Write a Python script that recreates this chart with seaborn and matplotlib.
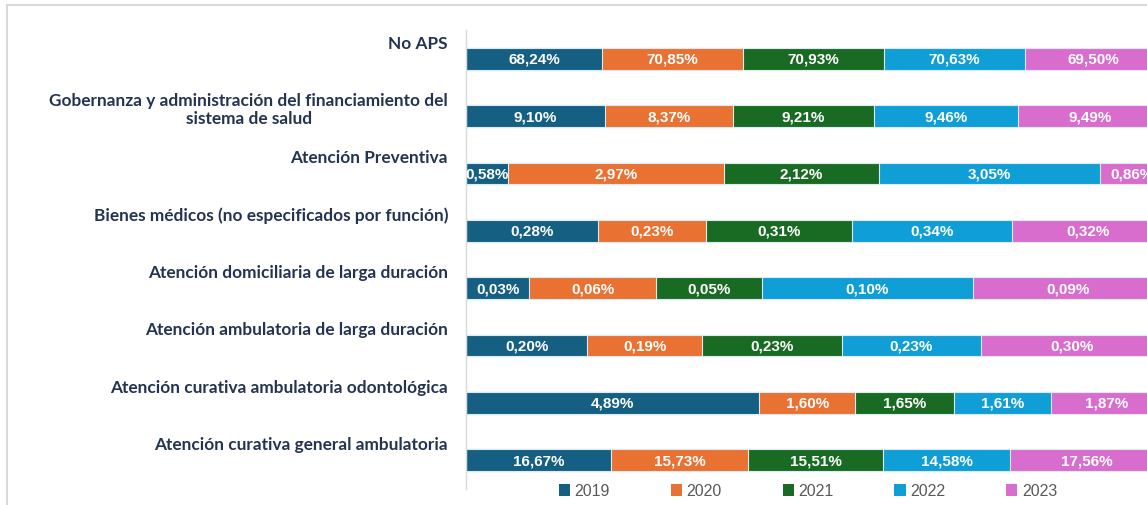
import numpy as np
import pandas as pd
import seaborn as sns
import matplotlib.pyplot as plt
from matplotlib.patches import Patch
from matplotlib.lines import Line2D
import matplotlib.transforms as mtransforms

categories = [
    "No APS",
    "Gobernanza y administración del financiamiento del\nsistema de salud",
    "Atención Preventiva",
    "Bienes médicos (no especificados por función)",
    "Atención domiciliaria de larga duración",
    "Atención ambulatoria de larga duración",
    "Atención curativa ambulatoria odontológica",
    "Atención curativa general ambulatoria",
]
years = ["2019", "2020", "2021", "2022", "2023"]
v2019 = [68.24, 9.10, 0.58, 0.28, 0.03, 0.20, 4.89, 16.67]
v2020 = [70.85, 8.37, 2.97, 0.23, 0.06, 0.19, 1.60, 15.73]
v2021 = [70.93, 9.21, 2.12, 0.31, 0.05, 0.23, 1.65, 15.51]
v2022 = [70.63, 9.46, 3.05, 0.34, 0.10, 0.23, 1.61, 14.58]
v2023 = [69.50, 9.49, 0.86, 0.32, 0.09, 0.30, 1.87, 17.56]
colors = ["#156082", "#E97132", "#196B24", "#0F9ED5", "#D86DCD"]

df = pd.DataFrame({"2019": v2019, "2020": v2020, "2021": v2021,
                   "2022": v2022, "2023": v2023}, index=categories)
# 100% apilado: cada fila se normaliza por su suma
share = df.div(df.sum(axis=1), axis=0)
cum = share.cumsum(axis=1)

sns.set_style("white")
fig = plt.figure(figsize=(11.47, 5.06), dpi=100)
W, H = 1147, 506
ax = fig.add_axes([466 / W, 16 / H, 697 / W, 459 / H])

# dibujar de la ultima a la primera para simular el apilado
for yr, col in reversed(list(zip(years, colors))):
    sns.barplot(x=cum[yr].values, y=categories, color=col, orient="h",
                width=0.38, edgecolor="#dcebf3", linewidth=0.8,
                saturation=1, ax=ax)

ax.set_xlim(0, 1)
ax.set_ylim(7.5, -0.5)
ax.set_xlabel("")
ax.set_ylabel("")
ax.set_xticks([])
ax.set_yticks([])
for s in ["top", "right", "bottom"]:
    ax.spines[s].set_visible(False)
ax.spines["left"].set_color("#d9d9d9")
ax.spines["left"].set_linewidth(1.0)

label_font = ["Liberation Sans Narrow", "Liberation Sans", "DejaVu Sans"]
for i, cat in enumerate(categories):
    start = 0.0
    for yr in years:
        w = share.loc[cat, yr]
        txt = f"{df.loc[cat, yr]:.2f}%".replace(".", ",")
        ax.text(start + w / 2, i, txt, ha="center", va="center", color="white",
                fontsize=11, fontweight="bold", family=label_font)
        start += w

trans = mtransforms.blended_transform_factory(ax.transAxes, ax.transData)
for i, cat in enumerate(categories):
    ax.text(-18 / 697, i - 0.42, cat, transform=trans, ha="right", va="top",
            multialignment="center", fontsize=12.4, fontweight="bold",
            family="Lato", color="#243352", linespacing=1.15)

handles = [Patch(facecolor=c, edgecolor="none") for c in colors]
fig.legend(handles, years, loc="center", bbox_to_anchor=(808 / W, 1 - 492 / H),
           ncol=5, frameon=False, handlelength=0.7, handleheight=0.7,
           handletextpad=0.3, columnspacing=3.8,
           prop={"family": label_font, "size": 11.5}, labelcolor="#595959")

# marco del area del grafico (recortado)
fig.add_artist(Line2D([7 / W, 1.0], [1 - 5.5 / H, 1 - 5.5 / H], color="#d9d9d9", lw=1.5))
fig.add_artist(Line2D([7 / W, 7 / W], [0, 1 - 5.5 / H], color="#d9d9d9", lw=1.5))

fig.savefig("out.png", dpi=100)
